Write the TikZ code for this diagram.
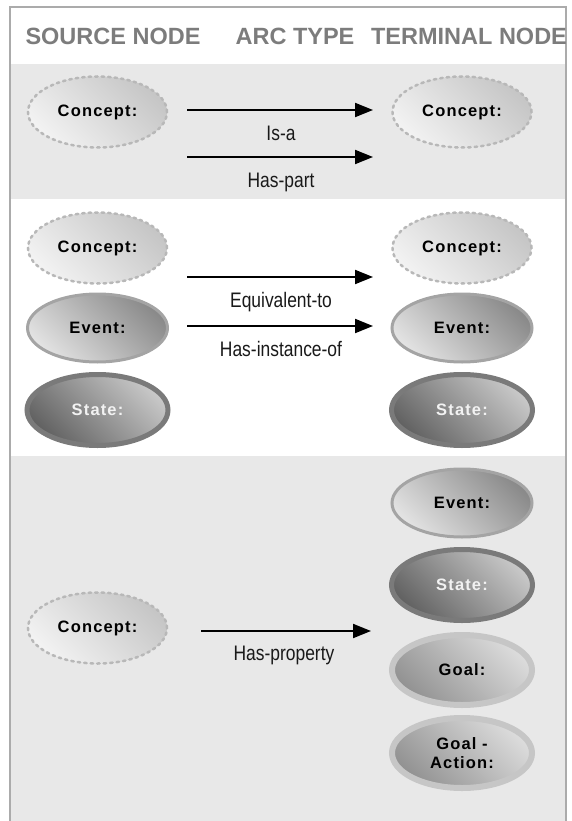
\documentclass[tikz,border=0pt]{standalone}
\usepackage{fontspec}
\setmainfont{Liberation Sans}
\newfontfamily\ovalfont[LetterSpace=7]{Liberation Sans}
\newfontfamily\arcfont[FakeStretch=0.83]{Liberation Sans}
\usetikzlibrary{shapes.geometric,arrows.meta}
\definecolor{bandgray}{HTML}{E8E8E8}
\definecolor{framegray}{HTML}{ABABAB}
\definecolor{headgray}{HTML}{7C7C7C}
\definecolor{cptline}{HTML}{B8B8B8}
\definecolor{cpttop}{HTML}{C6C6C6}
\definecolor{cptbot}{HTML}{F2F2F2}
\definecolor{evtline}{HTML}{A4A4A4}
\definecolor{evttop}{HTML}{8A8A8A}
\definecolor{evtbot}{HTML}{E2E2E2}
\definecolor{stline}{HTML}{7A7A7A}
\definecolor{sttop}{HTML}{C8C8C8}
\definecolor{stbot}{HTML}{626262}
\definecolor{glline}{HTML}{C6C6C6}
\definecolor{gltop}{HTML}{DCDCDC}
\definecolor{glbot}{HTML}{929292}
\begin{document}
\begin{tikzpicture}[x=1pt,y=-1pt,
  oval/.style={ellipse,inner sep=0pt,align=center,font=\ovalfont\bfseries\fontsize{16.5}{19}\selectfont},
  concept/.style={oval,minimum width=139pt,minimum height=71pt,draw=cptline,line width=2.5pt,
    dash pattern=on 2.5pt off 4pt,line cap=round,top color=cpttop,bottom color=cptbot,shading angle=-45},
  event/.style={oval,minimum width=140pt,minimum height=68pt,draw=evtline,line width=3pt,
    top color=evttop,bottom color=evtbot,shading angle=-45},
  state/.style={oval,minimum width=141pt,minimum height=71pt,draw=stline,line width=5pt,
    top color=sttop,bottom color=stbot,shading angle=-45,text=white!95!black},
  goal/.style={oval,minimum width=140pt,minimum height=70pt,draw=glline,line width=6pt,
    top color=gltop,bottom color=glbot,shading angle=-45},
  arc/.style={line width=2pt,-{Triangle[length=18pt,width=14pt]}},
  arclabel/.style={anchor=base,text=black!90,font=\arcfont\fontsize{21}{24}\selectfont},
  head/.style={anchor=base,text=headgray,font=\bfseries\fontsize{23.5}{27}\selectfont}]
\useasboundingbox (0,0) rectangle (572,821);
% bands and frame
\fill[bandgray] (10,64) rectangle (566,199);
\fill[bandgray] (10,456) rectangle (566,821);
\draw[framegray,line width=1.2pt] (10,821) -- (10,7) -- (566,7) -- (566,821);
% column heads
\node[head] (srchead) at (113,45) {SOURCE NODE};
\node[head] (archead) at (295,45) {ARC TYPE};
\node[head] (trmhead) at (469,45) {TERMINAL NODE};
% Is-a / Has-part
\node[concept] (srcA) at (97.5,112) {Concept:};
\node[concept] (trmA) at (462,112) {Concept:};
\coordinate (isaS) at (187,110);
\coordinate (isaE) at (373,110);
\coordinate (partS) at (187,157);
\coordinate (partE) at (373,157);
\draw[arc] (isaS) -- (isaE);
\draw[arc] (partS) -- (partE);
\node[arclabel] (isa) at (281,141) {Is-a};
\node[arclabel] (part) at (281,188) {Has-part};
% Equivalent-to / Has-instance-of
\node[concept] (srcBc) at (97.5,248) {Concept:};
\node[event] (srcBe) at (97.5,328) {Event:};
\node[state] (srcBs) at (97.5,410) {State:};
\node[concept] (trmBc) at (462,248) {Concept:};
\node[event] (trmBe) at (462,328) {Event:};
\node[state] (trmBs) at (462,410) {State:};
\coordinate (eqS) at (187,277);
\coordinate (eqE) at (373,277);
\coordinate (instS) at (187,326);
\coordinate (instE) at (373,326);
\draw[arc] (eqS) -- (eqE);
\draw[arc] (instS) -- (instE);
\node[arclabel] (equiv) at (281,307) {Equivalent-to};
\node[arclabel] (inst) at (281,356) {Has-instance-of};
% Has-property
\node[concept] (srcC) at (97.5,628) {Concept:};
\node[event] (trmCe) at (462,503) {Event:};
\node[state] (trmCs) at (462,585) {State:};
\node[goal] (trmCg) at (462,670) {Goal:};
\node[goal] (trmCa) at (462,753) {Goal -\\Action:};
\coordinate (propS) at (201,631);
\coordinate (propE) at (371,631);
\draw[arc] (propS) -- (propE);
\node[arclabel] (prop) at (284,660) {Has-property};
\end{tikzpicture}
\end{document}
